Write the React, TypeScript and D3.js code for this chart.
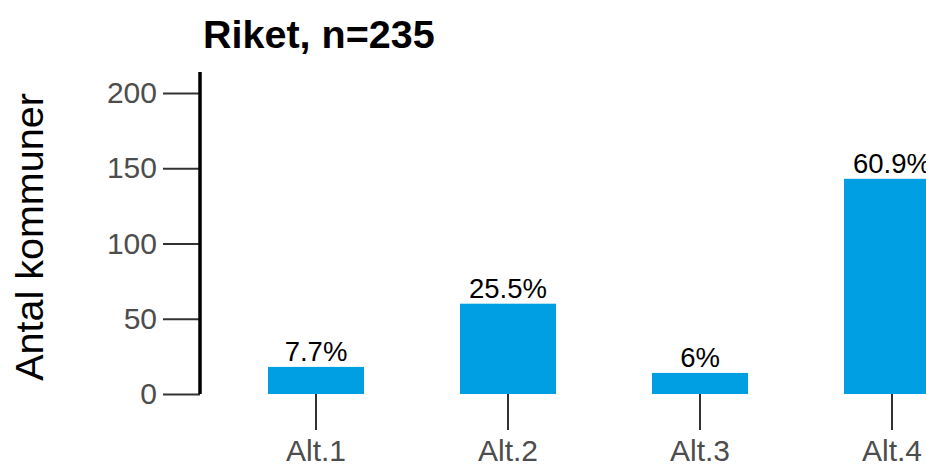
import React, { useEffect, useRef } from 'react';
import * as d3 from 'd3';

const categories = ['Alt.1', 'Alt.2', 'Alt.3', 'Alt.4'];
const counts = [18, 60, 14, 143];
const percentLabels = ['7.7%', '25.5%', '6%', '60.9%'];
const yTicks = [0, 50, 100, 150, 200];
const title = 'Riket, n=235';
const yTitle = 'Antal kommuner';

export default function App() {
  const svgRef = useRef<SVGSVGElement>(null);

  useEffect(() => {
    if (!svgRef.current) return;
    const svg = d3.select(svgRef.current);
    svg.selectAll('*').remove();

    const width = 926;
    const height = 464;
    const font = '"Liberation Sans", Arial, sans-serif';

    svg.attr('width', width).attr('height', height);

    const x = d3.scaleBand<string>()
      .domain(categories)
      .range([172, 1036])
      .paddingInner(0.5)
      .paddingOuter(0.5);

    const y = d3.scaleLinear().domain([0, 200]).range([394, 93]);

    // Title
    svg.append('text')
      .attr('x', 203)
      .attr('y', 48)
      .attr('font-family', font)
      .attr('font-weight', 'bold')
      .attr('font-size', 39.5)
      .attr('fill', '#000')
      .text(title);

    // Y title
    svg.append('text')
      .attr('transform', `translate(43,237) rotate(-90)`)
      .attr('text-anchor', 'middle')
      .attr('font-family', font)
      .attr('font-size', 39.5)
      .attr('fill', '#000')
      .text(yTitle);

    // Y axis
    const yAxis = svg.append('g')
      .attr('transform', 'translate(200,0)')
      .call(d3.axisLeft(y).tickValues(yTicks).tickSize(37).tickPadding(6).tickSizeOuter(0));
    yAxis.select('.domain').remove();
    yAxis.selectAll('.tick line').attr('stroke', '#333').attr('stroke-width', 2);
    yAxis.selectAll('.tick text')
      .attr('fill', '#4d4d4d')
      .attr('font-family', font)
      .attr('font-size', 30);
    svg.append('line')
      .attr('x1', 200).attr('x2', 200)
      .attr('y1', 72).attr('y2', y(0))
      .attr('stroke', '#000')
      .attr('stroke-width', 3.5);

    // Bars
    svg.selectAll('.bar')
      .data(counts)
      .enter()
      .append('rect')
      .attr('x', (d, i) => x(categories[i])!)
      .attr('y', d => y(d))
      .attr('width', x.bandwidth())
      .attr('height', d => y(0) - y(d))
      .attr('fill', '#009fe3');

    // Percent labels
    svg.selectAll('.pct')
      .data(counts)
      .enter()
      .append('text')
      .attr('x', (d, i) => x(categories[i])! + x.bandwidth() / 2)
      .attr('y', d => y(d) - 6)
      .attr('text-anchor', 'middle')
      .attr('font-family', font)
      .attr('font-size', 27.5)
      .attr('fill', '#000')
      .text((d, i) => percentLabels[i]);

    // X axis
    const xAxis = svg.append('g')
      .attr('transform', `translate(0,${y(0)})`)
      .call(d3.axisBottom(x).tickSize(36).tickPadding(10).tickSizeOuter(0));
    xAxis.select('.domain').remove();
    xAxis.selectAll('.tick line').attr('stroke', '#333').attr('stroke-width', 2);
    xAxis.selectAll('.tick text')
      .attr('fill', '#4d4d4d')
      .attr('font-family', font)
      .attr('font-size', 30);
  }, []);

  return (
    <div style={{ position: 'fixed', left: 0, top: 0, width: 926, height: 464, overflow: 'hidden', background: '#fff' }}>
      <svg ref={svgRef} style={{ display: 'block' }} />
    </div>
  );
}
